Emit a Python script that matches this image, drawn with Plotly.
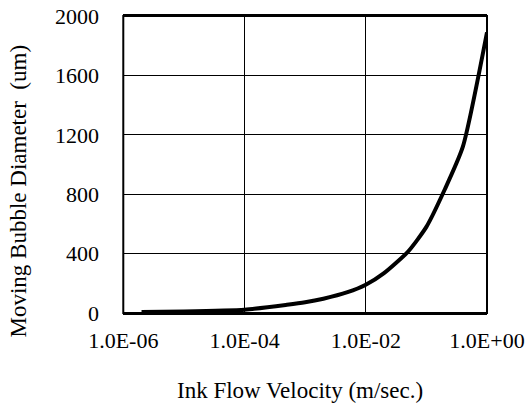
import plotly.graph_objects as go

velocity = [2e-6, 1e-5, 1e-4, 5e-4, 1e-3, 2e-3, 5e-3, 1e-2, 2e-2, 5e-2, 0.1, 0.2, 0.4, 1.0]
diameter = [7, 10, 22, 55, 72, 96, 140, 190, 268, 414, 580, 830, 1120, 1890]
x_ticks = [1e-6, 1e-4, 1e-2, 1e0]
x_tick_labels = ["1.0E-06", "1.0E-04", "1.0E-02", "1.0E+00"]
y_ticks = [0, 400, 800, 1200, 1600, 2000]

FONT = "Liberation Serif, Times New Roman, serif"

fig = go.Figure()
fig.add_trace(go.Scatter(
    x=velocity, y=diameter, mode="lines",
    line=dict(color="black", width=4, shape="spline", smoothing=0.6),
    showlegend=False, hoverinfo="skip",
))

fig.update_layout(
    width=525, height=405,
    margin=dict(l=99, r=38, t=16, b=92, autoexpand=False),
    paper_bgcolor="white", plot_bgcolor="white",
    font=dict(family=FONT, size=22, color="black"),
    xaxis=dict(
        type="log", range=[-6, 0], automargin=False, domain=[0.0626, 1],
        tickvals=x_ticks, ticktext=x_tick_labels,
        showgrid=True, gridcolor="black", gridwidth=1.3,
        showline=True, linecolor="black", linewidth=2, mirror=True,
        ticks="outside", ticklen=7, tickcolor="rgba(0,0,0,0)", zeroline=False,
        tickfont=dict(family=FONT, size=22, color="black"),
    ),
    yaxis=dict(
        range=[0, 2000], tickvals=y_ticks, automargin=False,
        anchor="free", position=0,
        showgrid=True, gridcolor="black", gridwidth=1.3,
        showline=False, ticks="", zeroline=False,
        tickfont=dict(family=FONT, size=22, color="black"),
    ),
    shapes=[
        dict(type="rect", xref="x domain", yref="y domain",
             x0=0, x1=1, y0=0, y1=1, line=dict(color="black", width=2),
             fillcolor="rgba(0,0,0,0)", layer="above"),
    ],
    annotations=[
        dict(text="Ink Flow Velocity (m/sec.)", xref="paper", yref="paper",
             x=0.518, y=0, yshift=-77, xanchor="center", yanchor="middle",
             showarrow=False, font=dict(family=FONT, size=23, color="black")),
        dict(text="Moving Bubble Diameter  (um)", xref="paper", yref="paper",
             x=0, xshift=-81, y=0.5, yshift=-27, textangle=-90,
             xanchor="center", yanchor="middle",
             showarrow=False, font=dict(family=FONT, size=23, color="black")),
    ],
)

fig.write_html("out.html")
